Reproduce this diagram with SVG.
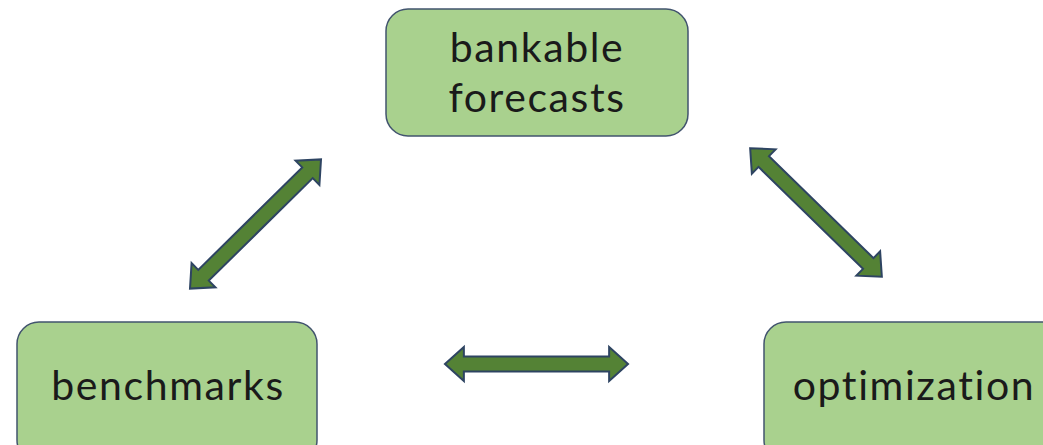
<svg xmlns="http://www.w3.org/2000/svg" width="1043" height="445" viewBox="0 0 1043 445">
  <style>
    .node rect { fill: #a9d18e; stroke: #42546e; stroke-width: 1.5; }
    .node text { font-family: Lato, "Liberation Sans", sans-serif; font-weight: 400; font-size: 41px; fill: #1a1a1a; text-anchor: middle; letter-spacing: 1.6px; }
    .link { fill: #548235; stroke: #2e4462; stroke-width: 2; stroke-linejoin: miter; }
  </style>
  <defs>
    <!-- double-headed block arrow, 184 long, centred on the origin along x -->
    <polygon id="dbl" points="-92,0 -73,-17 -73,-7.5 73,-7.5 73,-17 92,0 73,17 73,7.5 -73,7.5 -73,17"/>
  </defs>
  <rect width="1043" height="445" fill="#ffffff"/>

  <g id="connectors">
    <use href="#dbl" class="link" transform="translate(255.5,224) rotate(-44.6)"/>
    <use href="#dbl" class="link" transform="translate(816,212.5) rotate(44.3)"/>
    <use href="#dbl" class="link" transform="translate(536.5,364) scale(0.995,1)"/>
  </g>

  <g id="node-forecasts" class="node">
    <rect x="386" y="9" width="302" height="127" rx="22"/>
    <text x="537" y="62">bankable</text>
    <text x="537" y="112">forecasts</text>
  </g>

  <g id="node-benchmarks" class="node">
    <rect x="17" y="322" width="300" height="140" rx="22"/>
    <text x="168" y="400">benchmarks</text>
  </g>

  <g id="node-optimization" class="node">
    <rect x="764" y="322" width="300" height="140" rx="22"/>
    <text x="914" y="400">optimization</text>
  </g>
</svg>
